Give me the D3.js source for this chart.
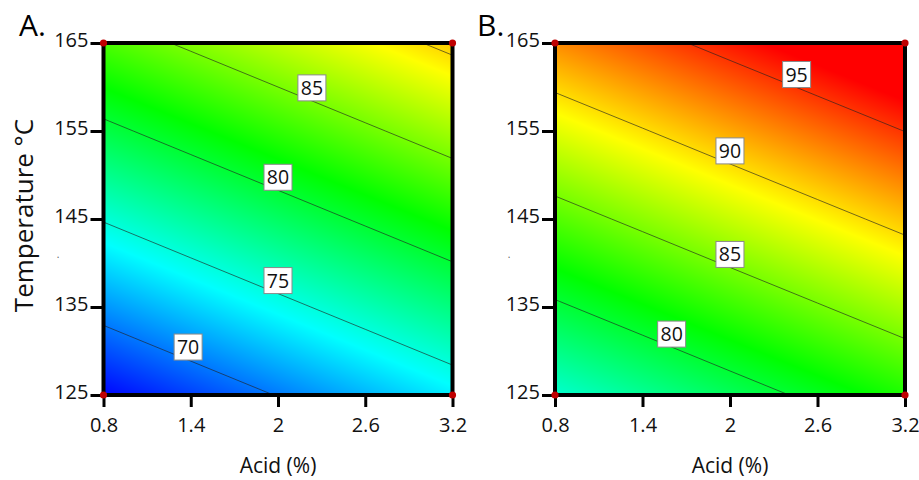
<!DOCTYPE html>
<html>
<head>
<meta charset="utf-8">
<script src="https://cdn.jsdelivr.net/npm/d3@7"></script>
<style>
  html, body { margin: 0; padding: 0; background: #fff; }
  svg { display: block; font-family: "Open Sans", "Noto Sans", sans-serif; }
</style>
</head>
<body>
<svg id="chart" width="919" height="480"></svg>
<script>
// ---------------- data ----------------
const acidTicks = [0.8, 1.4, 2, 2.6, 3.2];
const tempTicks = [125, 135, 145, 155, 165];

// response read at the tick grid (rows: temperature 125 -> 165, cols: acid 0.8 -> 3.2)
const responseA = [
  [66.63, 68.36, 70.09, 71.82, 73.55],
  [70.89, 72.62, 74.35, 76.08, 77.81],
  [75.15, 76.88, 78.61, 80.34, 82.07],
  [79.41, 81.14, 82.87, 84.60, 86.33],
  [83.67, 85.40, 87.13, 88.86, 90.59]
];
const responseB = [
  [75.39, 77.11, 78.84, 80.56, 82.28],
  [79.64, 81.36, 83.09, 84.81, 86.53],
  [83.89, 85.61, 87.34, 89.06, 90.78],
  [88.14, 89.86, 91.59, 93.31, 95.03],
  [92.39, 94.11, 95.84, 97.56, 99.28]
];
const levelsA = [70, 75, 80, 85, 90];
const levelsB = [80, 85, 90, 95];
const designPoints = [[0.8, 125], [0.8, 165], [3.2, 125], [3.2, 165]];
const colorStops = [66.5, 74, 81.5, 89, 96.5];
const colorRange = ["#0000ff", "#00ffff", "#00ff00", "#ffff00", "#ff0000"];

// ---------------- layout ----------------
const svg = d3.select("#chart");
const plotTop = 43, plotBottom = 395;
const panels = [
  { label: "A.", grid: responseA, levels: levelsA, left: 103.5, right: 452.5, labelX: 19, yTitle: true, dotX: 58 },
  { label: "B.", grid: responseB, levels: levelsB, left: 555, right: 905, labelX: 477, yTitle: false, dotX: 509 }
];
const color = d3.scaleLinear().domain(colorStops).range(colorRange).clamp(true);

function bilinear(grid, a, t) {
  const n = acidTicks.length, m = tempTicks.length;
  let fi = (a - acidTicks[0]) / (acidTicks[1] - acidTicks[0]);
  let fj = (t - tempTicks[0]) / (tempTicks[1] - tempTicks[0]);
  fi = Math.max(0, Math.min(n - 1, fi));
  fj = Math.max(0, Math.min(m - 1, fj));
  const i0 = Math.min(Math.floor(fi), n - 2), j0 = Math.min(Math.floor(fj), m - 2);
  const u = fi - i0, v = fj - j0;
  return grid[j0][i0] * (1 - u) * (1 - v) + grid[j0][i0 + 1] * u * (1 - v) +
         grid[j0 + 1][i0] * (1 - u) * v + grid[j0 + 1][i0 + 1] * u * v;
}

// clip segment to rect (Liang-Barsky)
function clipSeg(p, q, r) {
  let t0 = 0, t1 = 1;
  const dx = q[0] - p[0], dy = q[1] - p[1];
  const checks = [[-dx, p[0] - r.x0], [dx, r.x1 - p[0]], [-dy, p[1] - r.y0], [dy, r.y1 - p[1]]];
  for (const [pp, qq] of checks) {
    if (pp === 0) { if (qq < 0) return null; }
    else {
      const t = qq / pp;
      if (pp < 0) { if (t > t1) return null; if (t > t0) t0 = t; }
      else { if (t < t0) return null; if (t < t1) t1 = t; }
    }
  }
  return [[p[0] + t0 * dx, p[1] + t0 * dy], [p[0] + t1 * dx, p[1] + t1 * dy]];
}

panels.forEach((P, idx) => {
  const x = d3.scaleLinear().domain([acidTicks[0], acidTicks[acidTicks.length - 1]]).range([P.left, P.right]);
  const y = d3.scaleLinear().domain([tempTicks[0], tempTicks[tempTicks.length - 1]]).range([plotBottom, plotTop]);
  const g = svg.append("g");

  // filled gradient surface
  const W = Math.round(P.right - P.left), H = Math.round(plotBottom - plotTop);
  const canvas = document.createElement("canvas");
  canvas.width = W; canvas.height = H;
  const ctx = canvas.getContext("2d");
  const img = ctx.createImageData(W, H);
  for (let py = 0; py < H; py++) {
    const t = y.invert(plotTop + py + 0.5);
    for (let px = 0; px < W; px++) {
      const a = x.invert(P.left + px + 0.5);
      const c = d3.rgb(color(bilinear(P.grid, a, t)));
      const k = (py * W + px) * 4;
      img.data[k] = c.r; img.data[k + 1] = c.g; img.data[k + 2] = c.b; img.data[k + 3] = 255;
    }
  }
  ctx.putImageData(img, 0, 0);
  g.append("image").attr("x", P.left).attr("y", plotTop).attr("width", W).attr("height", H)
    .attr("preserveAspectRatio", "none").attr("href", canvas.toDataURL());

  // contours
  const n = acidTicks.length, m = tempTicks.length;
  const values = [];
  for (let j = 0; j < m; j++) for (let i = 0; i < n; i++) values.push(P.grid[j][i]);
  const contours = d3.contours().size([n, m]).thresholds(P.levels)(values);
  const gx = d3.scaleLinear().domain([0.5, n - 0.5]).range([acidTicks[0], acidTicks[n - 1]]);
  const gy = d3.scaleLinear().domain([0.5, m - 0.5]).range([tempTicks[0], tempTicks[m - 1]]);
  const toPx = pt => [x(gx(pt[0])), y(gy(pt[1]))];

  const clipId = "clip" + idx;
  svg.append("defs").append("clipPath").attr("id", clipId)
    .append("rect").attr("x", P.left).attr("y", plotTop).attr("width", P.right - P.left).attr("height", plotBottom - plotTop);

  const rect = { x0: P.left + 0.5, x1: P.right - 0.5, y0: plotTop + 0.5, y1: plotBottom - 0.5 };
  const labels = [];
  contours.forEach(cg => {
    cg.coordinates.forEach(poly => {
      poly.forEach(ring => {
        const pts = ring.map(toPx);
        g.append("path").attr("clip-path", `url(#${clipId})`)
          .attr("d", d3.line()(pts)).attr("fill", "none")
          .attr("stroke", "#222").attr("stroke-opacity", 0.7).attr("stroke-width", 0.9);
        const segs = [];
        for (let k = 0; k < pts.length - 1; k++) {
          const s = clipSeg(pts[k], pts[k + 1], rect);
          if (s) {
            const len = Math.hypot(s[1][0] - s[0][0], s[1][1] - s[0][1]);
            if (len > 1e-6) segs.push({ s, len });
          }
        }
        const total = d3.sum(segs, d => d.len);
        if (total > 60) {
          let half = total / 2;
          for (const d of segs) {
            if (half <= d.len) {
              const f = half / d.len;
              labels.push({ v: cg.value, p: [d.s[0][0] + f * (d.s[1][0] - d.s[0][0]), d.s[0][1] + f * (d.s[1][1] - d.s[0][1])] });
              break;
            }
            half -= d.len;
          }
        }
      });
    });
  });

  // contour labels (box sits just above the line)
  labels.forEach(L => {
    const lg = g.append("g").attr("transform", `translate(${L.p[0]},${L.p[1] - 13})`);
    lg.append("rect").attr("x", -14).attr("y", -13).attr("width", 28).attr("height", 26)
      .attr("fill", "#fff").attr("stroke", "#8a8a8a").attr("stroke-width", 1);
    lg.append("text").attr("text-anchor", "middle").attr("dy", "0.36em")
      .attr("font-size", 19.5).attr("fill", "#111").text(L.v);
  });

  // frame
  g.append("rect").attr("x", P.left).attr("y", plotTop).attr("width", P.right - P.left).attr("height", plotBottom - plotTop)
    .attr("fill", "none").attr("stroke", "#000").attr("stroke-width", 4);

  // axes
  const yAxis = d3.axisLeft(y).tickValues(tempTicks).tickSize(13).tickPadding(2).tickFormat(d3.format("d"));
  const ya = g.append("g").attr("transform", `translate(${P.left},0)`).call(yAxis);
  ya.select(".domain").remove();
  ya.selectAll(".tick line").attr("stroke", "#000").attr("stroke-width", 3);
  ya.selectAll(".tick text").attr("font-size", 20).attr("fill", "#111")
    .attr("x", -15).attr("dy", "0.35em").attr("y", -4);
  ya.attr("font-family", null);

  const xAxis = d3.axisBottom(x).tickValues(acidTicks).tickSize(12).tickPadding(2).tickFormat(d => d);
  const xa = g.append("g").attr("transform", `translate(0,${plotBottom})`).call(xAxis);
  xa.select(".domain").remove();
  xa.selectAll(".tick line").attr("stroke", "#000").attr("stroke-width", 3);
  xa.selectAll(".tick text").attr("font-size", 20).attr("fill", "#111")
    .attr("y", 37).attr("dy", null);
  xa.attr("font-family", null);

  // design points
  g.selectAll("circle.dp").data(designPoints).join("circle").attr("class", "dp")
    .attr("cx", d => x(d[0])).attr("cy", d => y(d[1])).attr("r", 3.6).attr("fill", "#c00000");

  // titles
  g.append("text").attr("x", (P.left + P.right) / 2).attr("y", 473).attr("text-anchor", "middle")
    .attr("font-size", 21).attr("fill", "#111").text("Acid (%)");
  if (P.yTitle) {
    g.append("text").attr("transform", "translate(33,215.5) rotate(-90)").attr("text-anchor", "middle")
      .attr("font-size", 26).attr("fill", "#111").text("Temperature °C");
  }
  g.append("text").attr("x", P.dotX).attr("y", 258).attr("text-anchor", "middle")
    .attr("font-size", 10).attr("fill", "#555").text(".");
  g.append("text").attr("x", P.labelX).attr("y", 36).attr("font-size", 30).attr("fill", "#000").text(P.label);
});
</script>
</body>
</html>
